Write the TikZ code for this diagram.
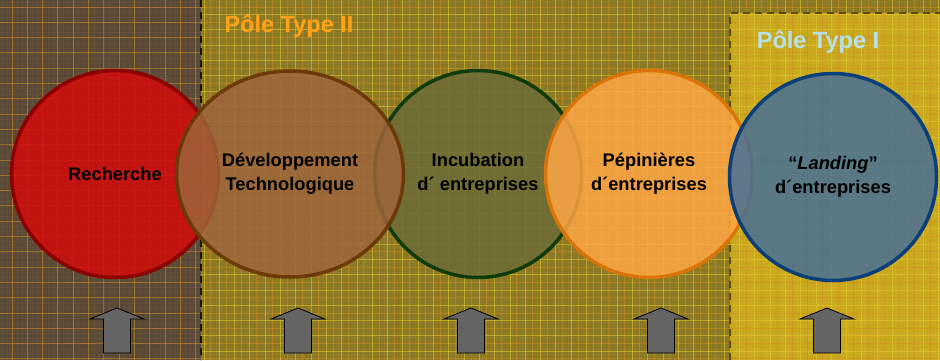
\documentclass[tikz,border=0pt]{standalone}
\usepackage{fontspec}
\setmainfont{Liberation Sans}
\usetikzlibrary{shapes.geometric}

\definecolor{zoneRech}{HTML}{5A4935}
\definecolor{zoneDeux}{HTML}{8A7822}
\definecolor{zoneUn}{HTML}{C9A81C}
\definecolor{gridOrange}{HTML}{D08A20}
\definecolor{gridYellow}{HTML}{E6CC2C}
\definecolor{arrowGray}{HTML}{646464}

\tikzset{
  pole/.style={circle, minimum size=207pt, line width=3.5pt, inner sep=0pt,
    fill opacity=0.85, text opacity=1, align=center,
    font=\bfseries\fontsize{18.3}{24}\selectfont},
  poletitle/.style={font=\bfseries\fontsize{23.5}{28}\selectfont},
  uparrow/.style={fill=arrowGray, draw=black, line width=0.8pt, line join=miter},
  zoneline/.style={line width=2.5pt, dash pattern=on 7pt off 5pt},
}

\begin{document}
\begin{tikzpicture}[x=1pt, y=-1pt]
    \useasboundingbox (0,0) rectangle (940,360);

    % fonds des trois zones
    \fill[zoneDeux] (0,0) rectangle (940,360);
    \fill[zoneRech] (0,0) rectangle (201,360);
    \fill[zoneUn] (730,13) rectangle (940,360);

    % quadrillage
    \begin{scope}
        \clip (0,0) rectangle (940,360);
        \foreach \i in {0,...,184}
            \draw[white, opacity=0.035, line width=0.5pt] (\i*5.1+2,0) -- (\i*5.1+2,360);
        \foreach \j in {0,...,70}
            \draw[white, opacity=0.035, line width=0.5pt] (0,\j*5.1+2) -- (940,\j*5.1+2);
        \foreach \i in {0,...,61}
            \draw[gridOrange, opacity=0.55, line width=0.9pt] (\i*15.3+12,0) -- (\i*15.3+12,360);
        \foreach \j in {0,...,23}
            \draw[gridOrange, opacity=0.55, line width=0.9pt] (0,\j*15.3+7) -- (940,\j*15.3+7);
    \end{scope}
    \begin{scope}
        \clip (201,0) rectangle (940,360);
        \foreach \i in {0,...,48}
            \draw[gridYellow, opacity=0.55, line width=0.9pt] (\i*15.3+204,0) -- (\i*15.3+204,360);
        \foreach \j in {0,...,23}
            \draw[gridYellow, opacity=0.55, line width=0.9pt] (0,\j*15.3+14.6) -- (940,\j*15.3+14.6);
    \end{scope}

    % limites des poles
    \draw[zoneline, color=black!70!zoneRech] (201,0) -- (201,360);
    \draw[zoneline, color=black!35!zoneDeux] (730,360) -- (730,13) -- (940,13);

    % etapes
    \node[pole, draw=red!55!black, fill={rgb,255:red,212;green,10;blue,10}] (rech) at (115,174) {Recherche};
    \node[pole, draw={rgb,255:red,15;green,58;blue,10}, fill={rgb,255:red,107;green,106;blue,56}] (incub) at (478,174) {Incubation\\d´ entreprises};
    \node[pole, ellipse, minimum width=227pt, minimum height=206pt, draw={rgb,255:red,107;green,58;blue,8},
        fill={rgb,255:red,157;green,101;blue,60}] (dev) at (290,174) {Développement\\Technologique};
    \node[pole, draw={rgb,255:red,216;green,116;blue,8}, fill={rgb,255:red,255;green,167;blue,69}] (pep) at (649,174) {Pépinières\\d´entreprises};
    \node[pole, draw={rgb,255:red,10;green,63;blue,122}, fill={rgb,255:red,70;green,112;blue,150}] (land) at (833,177) {“\textit{Landing}”\\d´entreprises};

    % fleches
    \foreach \ax in {117,298,471,661,827}
        \draw[uparrow] (\ax,308) -- (\ax+27,319) -- (\ax+13.5,319) -- (\ax+13.5,353)
            -- (\ax-13.5,353) -- (\ax-13.5,319) -- (\ax-27,319) -- cycle;

    % titres
    \node[poletitle, text={rgb,255:red,255;green,162;blue,26}] (typeII) at (289,26) {Pôle Type II};
    \node[poletitle, text={rgb,255:red,184;green,224;blue,232}] (typeI) at (818,42) {Pôle Type I};
\end{tikzpicture}
\end{document}
